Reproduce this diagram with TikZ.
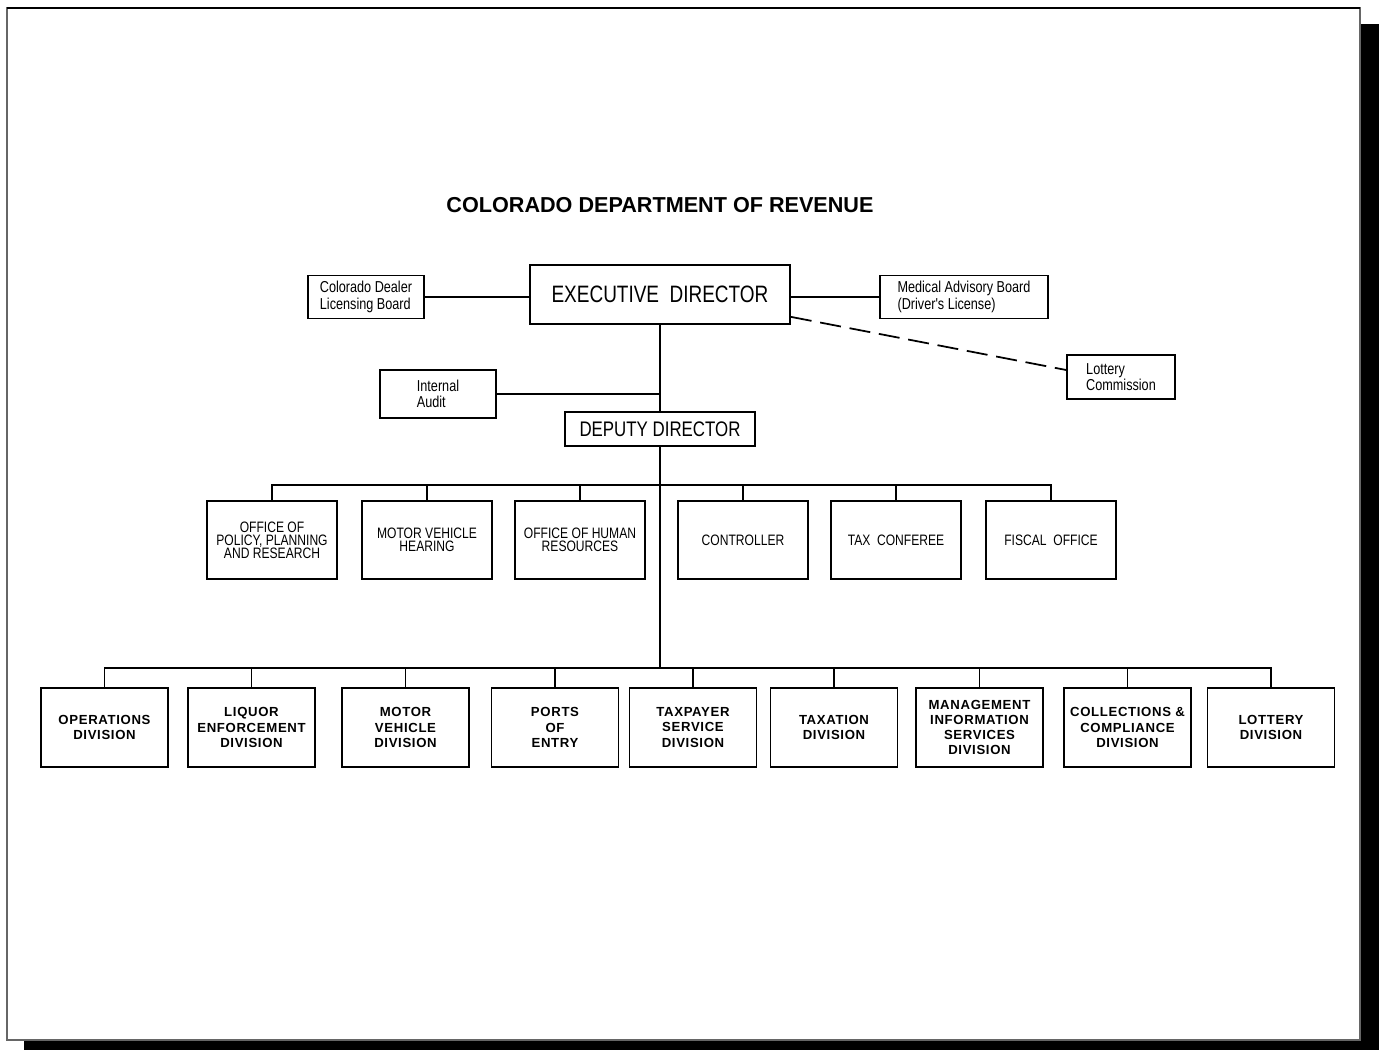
\documentclass[tikz,border=0pt]{standalone}
\usepackage{fontspec}
\setmainfont{Liberation Sans}
\newfontfamily\narrowfont[FakeStretch=0.8]{Liberation Sans}
\newfontfamily\divfont[LetterSpace=5]{Liberation Sans}
\begin{document}
\begin{tikzpicture}
[x = 0.02cm, y = -0.02cm, % one unit per pixel of the scan
line width = 1pt, % line style
board/.style = {draw, align=left, font=\narrowfont\fontsize{9}{9.5}\selectfont},
office/.style = {draw, minimum width=2.6cm, minimum height=1.56cm, align=center,
  font=\narrowfont\fontsize{8.6}{7.4}\selectfont},
division/.style = {draw, minimum width=2.54cm, minimum height=1.58cm, align=center,
  font=\divfont\bfseries\fontsize{7.5}{8.6}\selectfont}]
\useasboundingbox (0,0) rectangle (1379,1050);
% page and its shadow
\fill (1360,24) rectangle (1379,1050);
\fill (24,1040) rectangle (1379,1050);
\draw[line width=0.6pt, black!60] (7,8) rectangle (1360,1040);
\draw[line width=1.5pt] (7,8) -- (1360,8);

\node[font=\bfseries\fontsize{12.3}{14}\selectfont] (title) at (660,205) {COLORADO DEPARTMENT OF REVENUE};

% top
\node[draw, minimum width=5.2cm, minimum height=1.18cm, font=\narrowfont\fontsize{13.5}{15}\selectfont]
  (ed) at (660,294.5) {EXECUTIVE\ \ DIRECTOR};
\node[board, minimum width=2.32cm, minimum height=0.84cm] (cdlb) at (366,297) {Colorado Dealer\\Licensing Board};
\node[board, minimum width=3.36cm, minimum height=0.84cm] (mab) at (964,297) {Medical Advisory Board\\(Driver's License)};
\node[board, minimum width=2.16cm, minimum height=0.88cm] (lc) at (1121,377) {Lottery\\Commission};
\node[board, minimum width=2.32cm, minimum height=0.96cm] (ia) at (438,394) {Internal\\Audit};
\node[draw, minimum width=3.8cm, minimum height=0.68cm, font=\narrowfont\fontsize{12}{14}\selectfont]
  (dd) at (660,429) {DEPUTY DIRECTOR};

\draw (cdlb.east) -- (cdlb.east -| ed.west);
\draw (mab.west) -- (mab.west -| ed.east);
\draw[dash pattern=on 12pt off 5pt] ([yshift=0.16cm]ed.south east) -- ([yshift=0.14cm]lc.west);
\draw (ed.south) -- (dd.north);
\draw (ia.east) -- (ia.east -| ed.south);

% offices
\node[office] (o1) at (272,540) {OFFICE OF\\POLICY, PLANNING\\AND RESEARCH};
\node[office] (o2) at (427,540) {MOTOR VEHICLE\\HEARING};
\node[office] (o3) at (580,540) {OFFICE OF HUMAN\\RESOURCES};
\node[office] (o4) at (743,540) {CONTROLLER};
\node[office] (o5) at (896,540) {TAX\ \ CONFEREE};
\node[office] (o6) at (1051,540) {FISCAL\ \ OFFICE};

% divisions
\node[division] (d1) at (104.5,727.5) {OPERATIONS\\DIVISION};
\node[division] (d2) at (251.5,727.5) {LIQUOR\\ENFORCEMENT\\DIVISION};
\node[division] (d3) at (405.5,727.5) {MOTOR\\VEHICLE\\DIVISION};
\node[division] (d4) at (555,727.5) {PORTS\\OF\\ENTRY};
\node[division] (d5) at (693,727.5) {TAXPAYER\\SERVICE\\DIVISION};
\node[division] (d6) at (834,727.5) {TAXATION\\DIVISION};
\node[division] (d7) at (979.5,727.5) {MANAGEMENT\\INFORMATION\\SERVICES\\DIVISION};
\node[division] (d8) at (1127.5,727.5) {COLLECTIONS \&\\COMPLIANCE\\DIVISION};
\node[division] (d9) at (1271,727.5) {LOTTERY\\DIVISION};

\coordinate (bus1) at (660,485);
\coordinate (bus2) at (660,668);
\draw (dd.south) -- (bus2);
\draw (o1.north) |- (bus1) -| (o6.north);
\foreach \n in {2,...,5}
  \draw (o\n.north) -- (o\n.north |- bus1);
\draw (d1.north) |- (bus2) -| (d9.north);
\foreach \n in {2,...,8}
  \draw (d\n.north) -- (d\n.north |- bus2);
\end{tikzpicture}
\end{document}
